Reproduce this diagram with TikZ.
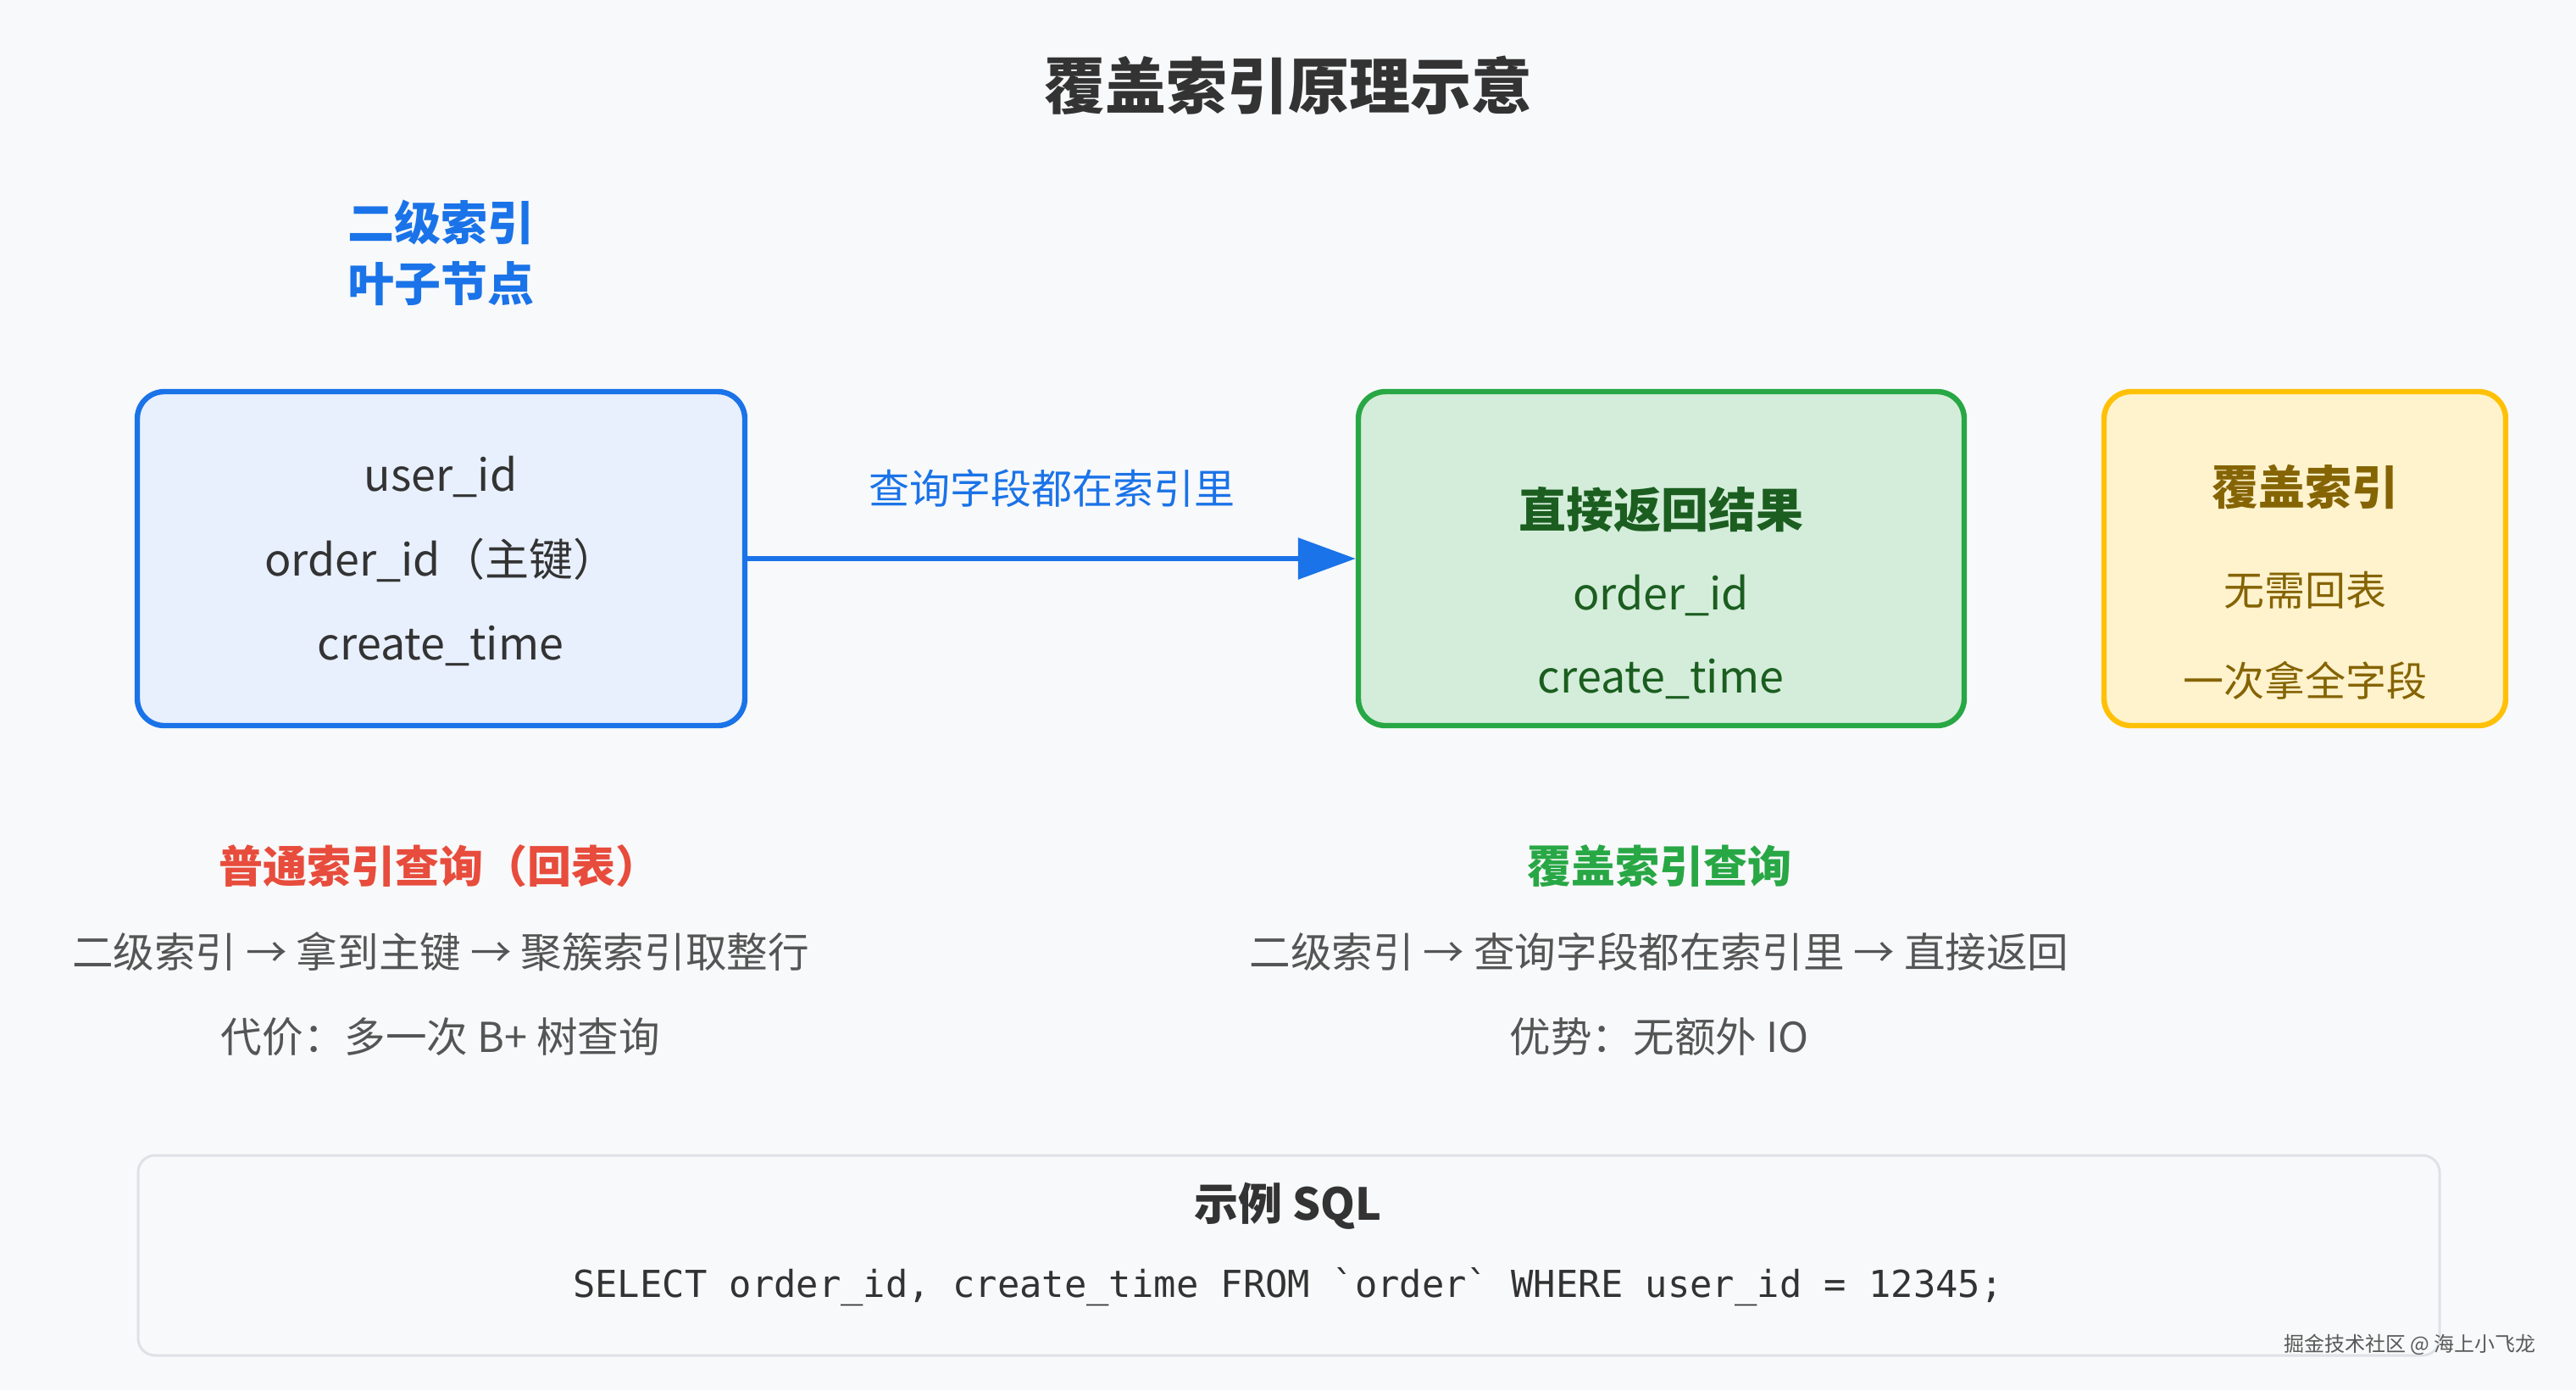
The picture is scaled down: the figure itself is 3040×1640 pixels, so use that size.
\documentclass[tikz,border=0pt]{standalone}
\usepackage{fontspec}
\setmainfont{Noto Sans CJK SC}
\newfontfamily\codefont{DejaVu Sans Mono}
\usetikzlibrary{arrows.meta}
\definecolor{bgc}{HTML}{F8F9FA}
\definecolor{blueline}{HTML}{1A73E8}
\definecolor{bluefill}{HTML}{E8F0FE}
\definecolor{greenline}{HTML}{28A745}
\definecolor{greenfill}{HTML}{D4EDDA}
\definecolor{greentext}{HTML}{1B5E20}
\definecolor{yellowline}{HTML}{FFC107}
\definecolor{yellowfill}{HTML}{FFF3CD}
\definecolor{yellowtext}{HTML}{856404}
\definecolor{darktext}{HTML}{333333}
\definecolor{graytext}{HTML}{555555}
\definecolor{redtext}{HTML}{E74C3C}
\definecolor{greenhead}{HTML}{28A745}
\definecolor{sqlline}{HTML}{DEE2E6}
\tikzset{
  box/.style={rounded corners=16pt, line width=3.2pt, inner sep=0pt},
  txt/.style={inner sep=0pt, anchor=center, font=\fontsize{26}{30}\selectfont},
  small/.style={inner sep=0pt, anchor=center, font=\fontsize{24}{28}\selectfont},
  expl/.style={inner sep=0pt, anchor=center, font=\fontsize{24.3}{28}\selectfont},
  boldt/.style={inner sep=0pt, anchor=center, font=\fontsize{28}{32}\selectfont\bfseries},
}
\begin{document}
\begin{tikzpicture}[x=0.5pt,y=-0.5pt]
\fill[bgc] (0,0) rectangle (3040,1640);
\useasboundingbox (0,0) rectangle (3040,1640);

% title
\node[inner sep=0pt, font=\fontsize{36}{40}\selectfont\bfseries, text=darktext] (title) at (1520,101) {覆盖索引原理示意};

% left heading
\node[boldt, text=blueline, align=center, font=\fontsize{27.5}{36}\selectfont\bfseries] (lhead) at (520,298) {二级索引\\叶子节点};

% boxes
\node[box, draw=blueline, fill=bluefill, minimum width=358.5pt, minimum height=197pt] (bbox) at (520.5,659) {};
\node[box, draw=greenline, fill=greenfill, minimum width=357.5pt, minimum height=197pt] (gbox) at (1960.5,659) {};
\node[box, draw=yellowline, fill=yellowfill, minimum width=237pt, minimum height=197pt] (ybox) at (2720,659) {};

% blue box text
\node[txt, text=darktext] (b1) at (520,562) {user\_id};
\node[txt, text=darktext] (b2) at (520,661) {order\_id（主键）};
\node[txt, text=darktext] (b3) at (520,762) {create\_time};

% green box text
\node[boldt, text=greentext] (g1) at (1960,601) {直接返回结果};
\node[txt, text=greentext] (g2) at (1960,702) {order\_id};
\node[txt, text=greentext] (g3) at (1960,801) {create\_time};

% yellow box text
\node[boldt, text=yellowtext, font=\fontsize{27.5}{32}\selectfont\bfseries] (y1) at (2720,574) {覆盖索引};
\node[small, text=yellowtext] (y2) at (2720,696) {无需回表};
\node[small, text=yellowtext] (y3) at (2720,803) {一次拿全字段};

% arrow
\draw[line width=3pt, draw=blueline, -{Triangle[length=34pt,width=24pt]}] (bbox.east) -- (gbox.west);
\node[small, text=blueline] (alabel) at (1241,576) {查询字段都在索引里};

% left explanation
\node[boldt, text=redtext, font=\fontsize{26}{30}\selectfont\bfseries] (lq) at (518,1022) {普通索引查询（回表）};
\node[expl, text=graytext] (lq1) at (520,1123) {二级索引 → 拿到主键 → 聚簇索引取整行};
\node[expl, text=graytext] (lq2) at (520,1223) {代价：多一次 B+ 树查询};

% right explanation
\node[boldt, text=greenhead, font=\fontsize{26}{30}\selectfont\bfseries] (rq) at (1958,1022) {覆盖索引查询};
\node[expl, text=graytext] (rq1) at (1958,1123) {二级索引 → 查询字段都在索引里 → 直接返回};
\node[expl, text=graytext] (rq2) at (1958,1223) {优势：无额外 IO};

% SQL box
\node[rounded corners=10pt, line width=1.5pt, draw=sqlline, fill=bgc, minimum width=1358pt, minimum height=118pt, inner sep=0pt] (sbox) at (1521,1481) {};
\node[inner sep=0pt, text=darktext, font=\fontsize{26}{30}\selectfont\bfseries] (stitle) at (1520,1423) {示例 SQL};
\node[inner sep=0pt, text=darktext, font=\fontsize{21.9}{26}\selectfont\codefont] (scode) at (1520,1518) {SELECT order\_id, create\_time FROM `order` WHERE user\_id = 12345;};

% watermark
\node[inner sep=0pt, text=gray!70!black, font=\fontsize{12}{14}\selectfont] (wm) at (2844,1586) {掘金技术社区 @ 海上小飞龙};
\end{tikzpicture}
\end{document}
